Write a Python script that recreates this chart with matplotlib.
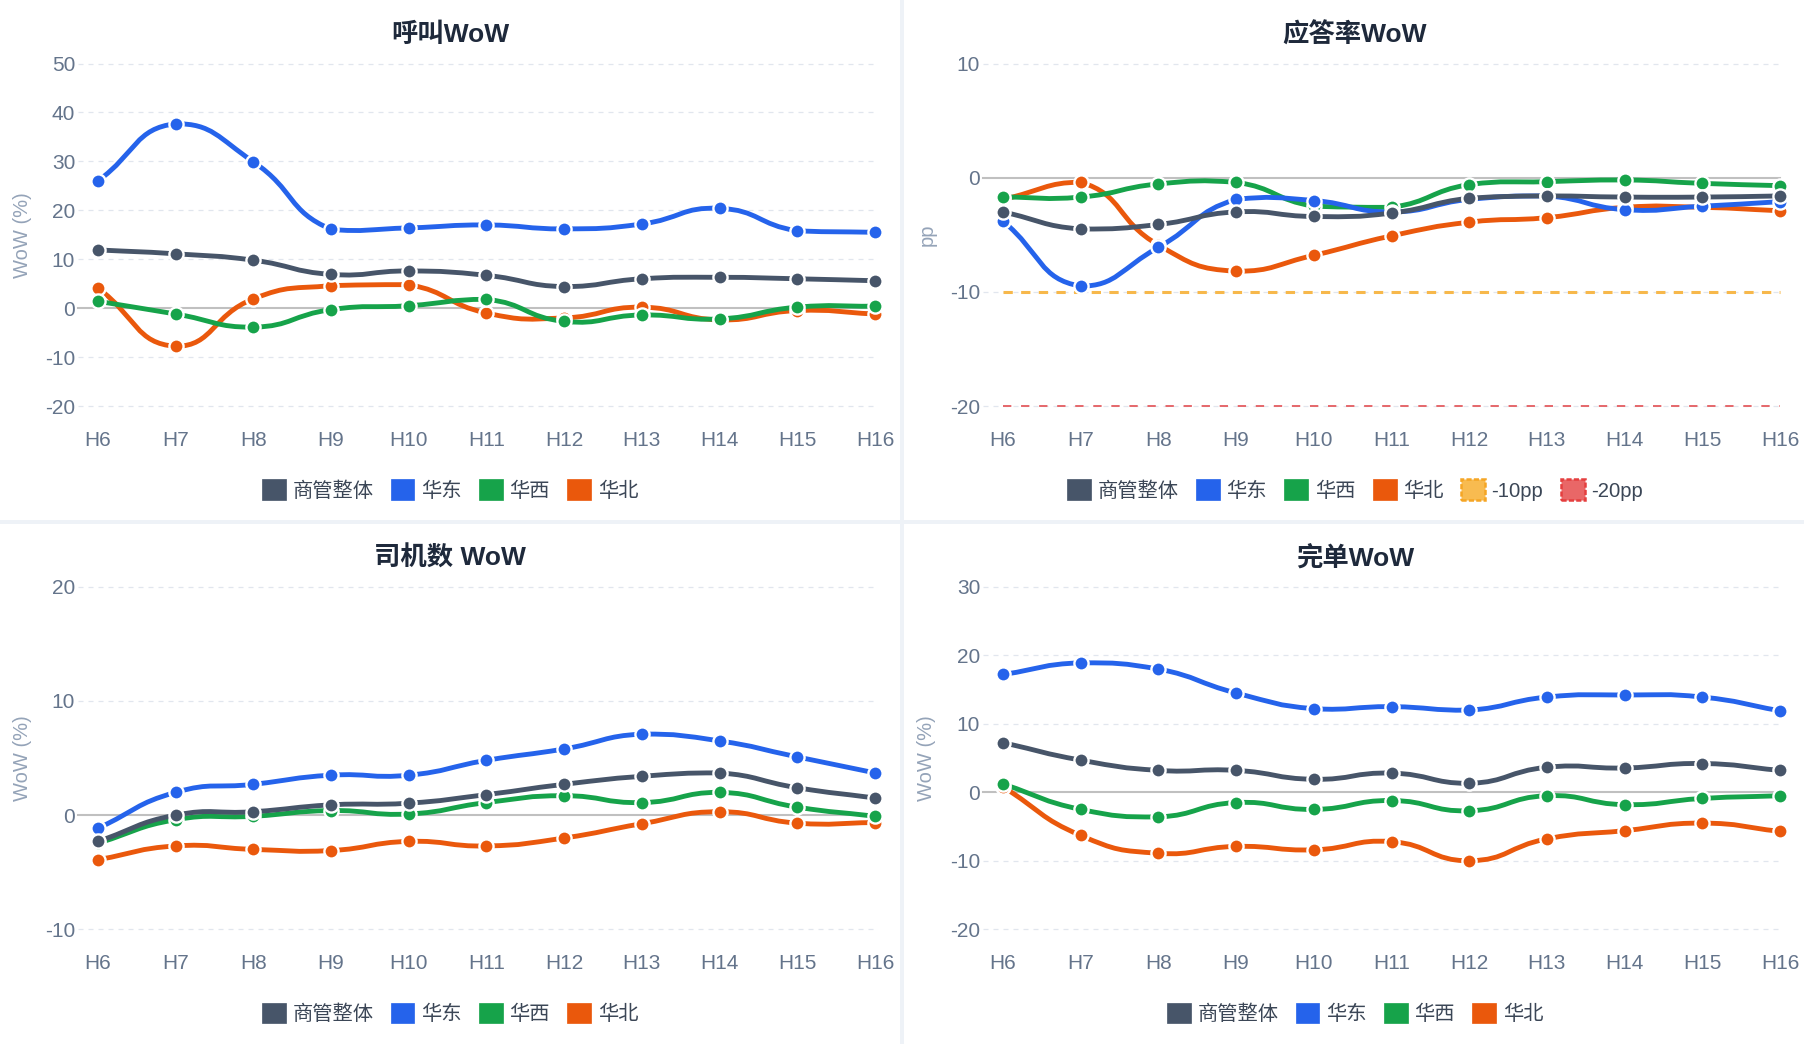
import numpy as np
import matplotlib
matplotlib.use('Agg')
import matplotlib.pyplot as plt
from matplotlib.path import Path
from matplotlib.patches import PathPatch, Patch, Rectangle

plt.rcParams['font.family'] = ['Liberation Sans', 'Noto Sans CJK SC']
plt.rcParams['lines.scale_dashes'] = False

# ---------------- data ----------------
hours = ['H6', 'H7', 'H8', 'H9', 'H10', 'H11', 'H12', 'H13', 'H14', 'H15', 'H16']
series_names = ['商管整体', '华东', '华西', '华北']
series_colors = ['#475569', '#2563eb', '#16a34a', '#ea580c']

call_total = [11.9, 11.1, 9.8, 6.9, 7.6, 6.7, 4.4, 6.0, 6.3, 6.0, 5.6]
call_east = [26.0, 37.7, 29.9, 16.1, 16.4, 17.0, 16.2, 17.2, 20.4, 15.8, 15.5]
call_west = [1.4, -1.2, -3.9, -0.3, 0.5, 1.8, -2.7, -1.4, -2.2, 0.2, 0.4]
call_north = [4.1, -7.8, 1.9, 4.6, 4.8, -1.0, -2.0, 0.2, -2.4, -0.5, -1.2]

ans_total = [-3.0, -4.5, -4.1, -3.0, -3.4, -3.1, -1.8, -1.6, -1.7, -1.7, -1.6]
ans_east = [-3.8, -9.5, -6.1, -1.9, -2.0, -3.0, -1.9, -1.6, -2.8, -2.5, -2.1]
ans_west = [-1.7, -1.7, -0.55, -0.4, -2.5, -2.6, -0.6, -0.35, -0.2, -0.5, -0.7]
ans_north = [-1.9, -0.4, -5.9, -8.2, -6.8, -5.1, -3.9, -3.5, -2.6, -2.6, -2.9]
ans_ref_values = [-10, -20]
ans_ref_names = ['-10pp', '-20pp']

drv_total = [-2.3, 0.0, 0.3, 0.9, 1.05, 1.8, 2.7, 3.4, 3.7, 2.4, 1.5]
drv_east = [-1.15, 2.0, 2.7, 3.5, 3.5, 4.8, 5.8, 7.1, 6.5, 5.1, 3.7]
drv_west = [-2.45, -0.4, -0.1, 0.4, 0.1, 1.1, 1.7, 1.1, 2.0, 0.7, -0.1]
drv_north = [-3.9, -2.7, -3.0, -3.1, -2.3, -2.7, -2.0, -0.75, 0.3, -0.7, -0.65]

ord_total = [7.25, 4.7, 3.2, 3.2, 1.9, 2.8, 1.3, 3.65, 3.55, 4.2, 3.2]
ord_east = [17.2, 18.9, 18.0, 14.5, 12.2, 12.5, 12.0, 13.9, 14.2, 13.9, 11.9]
ord_west = [1.2, -2.5, -3.6, -1.5, -2.5, -1.2, -2.7, -0.5, -1.8, -0.9, -0.5]
ord_north = [0.8, -6.3, -8.9, -7.9, -8.4, -7.2, -10.0, -6.8, -5.6, -4.5, -5.7]

# ---------------- figure ----------------
W, H = 1804, 1044
fig = plt.figure(figsize=(W / 100, H / 100), dpi=100, facecolor='white')

SEP = '#eef2f7'
fig.add_artist(Rectangle((900 / W, 0), 4 / W, 1, transform=fig.transFigure,
                         facecolor=SEP, edgecolor='none', zorder=0))
fig.add_artist(Rectangle((0, 1 - 524 / H), 1, 4 / H, transform=fig.transFigure,
                         facecolor=SEP, edgecolor='none', zorder=0))

TICK_C = '#64748b'
NAME_C = '#94a3b8'
TITLE_C = '#1e293b'
LEG_C = '#3b4656'
GRID_C = '#e1e6ee'
ZERO_C = '#c0c0c0'


def add_axes_px(left, top, right, bottom):
    return fig.add_axes([left / W, 1 - bottom / H, (right - left) / W, (bottom - top) / H])


def smooth_path(ax, xs, ys, smooth=0.5):
    pts = ax.transData.transform(np.column_stack([xs, ys]).astype(float))
    n = len(pts)
    lo = pts.min(axis=0)
    hi = pts.max(axis=0)
    cps = []
    for i in range(n):
        prev = pts[i - 1] if i > 0 else pts[i]
        nxt = pts[i + 1] if i < n - 1 else pts[i]
        v = (nxt - prev) * smooth
        d0 = np.hypot(*(pts[i] - prev))
        d1 = np.hypot(*(pts[i] - nxt))
        s = d0 + d1
        if s:
            d0 /= s
            d1 /= s
        c0 = np.clip(pts[i] - v * d0, lo, hi)
        c1 = np.clip(pts[i] + v * d1, lo, hi)
        cps.append((c0, c1))
    verts = [pts[0]]
    codes = [Path.MOVETO]
    for i in range(1, n):
        verts += [cps[i - 1][1], cps[i][0], pts[i]]
        codes += [Path.CURVE4] * 3
    verts = ax.transData.inverted().transform(np.array(verts))
    return Path(verts, codes)


def panel(ox, oy, title, ylim, yticks, ylabel, data, refs=None):
    L, R = ox + 78, ox + 875
    T, B = oy + 63.5, oy + 406
    ax = add_axes_px(L, T, R, B)
    ax.set_facecolor('none')
    step = (R - L - 20) / 10.0
    ax.set_xlim(-20 / step, len(hours) - 1)
    ax.set_ylim(*ylim)
    for s in ax.spines.values():
        s.set_visible(False)
    ax.set_xticks(range(len(hours)))
    ax.set_xticklabels(hours)
    ax.set_yticks(yticks)
    ax.set_yticklabels([str(t) for t in yticks])
    ax.tick_params(axis='x', length=0, pad=18, labelsize=15, colors=TICK_C)
    ax.tick_params(axis='y', length=0, pad=2, labelsize=15, colors=TICK_C)
    xl = ax.get_xlim()
    for t in yticks:
        if t == 0:
            continue
        ln, = ax.plot(xl, [t, t], color=GRID_C, lw=0.9, zorder=1, clip_on=False)
        ln.set_dashes((3.6, 3.6))
    ax.plot(xl, [0, 0], color=ZERO_C, lw=1.5, zorder=1.2, clip_on=False)

    if refs:
        for val, col, lw, dash in refs:
            ln, = ax.plot([0, len(hours) - 1], [val, val], color=col, lw=lw, zorder=1.5,
                          clip_on=False)
            ln.set_dashes(dash)

    ax.text(-56 / (R - L), 0.5, ylabel, rotation=90, ha='center', va='center',
            color=NAME_C, fontsize=14.5, transform=ax.transAxes)

    fig.text((ox + 450) / W, 1 - (oy + 35) / H, title, ha='center', va='center',
             fontsize=19, fontweight='bold', color=TITLE_C)

    xs = np.arange(len(hours))
    order = [3, 2, 1, 0]  # later-listed series lie underneath
    for k, idx in enumerate(order):
        ys = np.array(data[idx], dtype=float)
        col = series_colors[idx]
        p = smooth_path(ax, xs, ys)
        ax.add_patch(PathPatch(p, facecolor='none', edgecolor=col, lw=3.5,
                               capstyle='round', joinstyle='round',
                               zorder=2 + 0.1 * k, clip_on=False))
    for k, idx in enumerate(order):
        ys = np.array(data[idx], dtype=float)
        col = series_colors[idx]
        ax.plot(xs, ys, linestyle='none', marker='o', ms=10.2, mfc=col, mec='white',
                mew=1.7, zorder=3 + 0.1 * k, clip_on=False)

    handles = [Patch(facecolor=c, edgecolor=c, lw=0.5) for c in series_colors]
    labels = list(series_names)
    if refs:
        leg_styles = [('#f8bb50', '#f5a524'), ('#e96767', '#e53e3e')]
        for (fc, ec), nm in zip(leg_styles, ans_ref_names):
            handles.append(Patch(facecolor=fc, edgecolor=ec, lw=1.8, linestyle='--'))
            labels.append(nm)
    fig.legend(handles, labels, loc='center',
               bbox_to_anchor=((ox + 450) / W, 1 - (oy + 490) / H),
               ncol=len(handles), frameon=False, fontsize=14.6,
               handlelength=1.18, handleheight=1.18, handletextpad=0.33,
               columnspacing=0.85, labelcolor=LEG_C, borderpad=0)
    return ax


panel(0, 0, '呼叫WoW', (-20, 50), list(range(-20, 51, 10)), 'WoW (%)',
      [call_total, call_east, call_west, call_north])
panel(905, 0, '应答率WoW', (-20, 10), [-20, -10, 0, 10], 'pp',
      [ans_total, ans_east, ans_west, ans_north],
      refs=[(ans_ref_values[0], '#f7b84b', 2.2, (6.7, 6.0)),
            (ans_ref_values[1], '#e5676b', 1.4, (6.0, 7.0))])
panel(0, 523.3, '司机数 WoW', (-10, 20), [-10, 0, 10, 20], 'WoW (%)',
      [drv_total, drv_east, drv_west, drv_north])
panel(905, 523.3, '完单WoW', (-20, 30), list(range(-20, 31, 10)), 'WoW (%)',
      [ord_total, ord_east, ord_west, ord_north])

fig.savefig('out.png', dpi=100, facecolor='white')
